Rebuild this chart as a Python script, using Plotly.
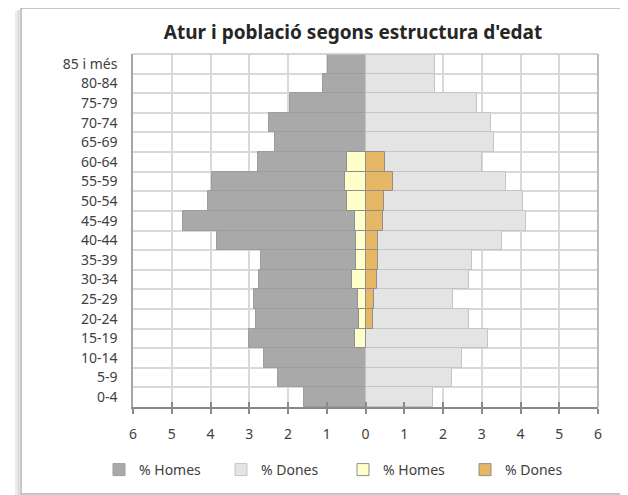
import plotly.graph_objects as go

# ---- data (youngest -> oldest) ----
ages = ["0-4", "5-9", "10-14", "15-19", "20-24", "25-29", "30-34", "35-39", "40-44",
        "45-49", "50-54", "55-59", "60-64", "65-69", "70-74", "75-79", "80-84", "85 i més"]
pop_men = [1.59, 2.25, 2.62, 3.00, 2.83, 2.87, 2.76, 2.70, 3.82,
           4.72, 4.06, 3.95, 2.78, 2.33, 2.48, 1.95, 1.10, 0.96]
pop_women = [1.75, 2.24, 2.48, 3.17, 2.68, 2.27, 2.68, 2.76, 3.53,
             4.14, 4.07, 3.63, 3.01, 3.32, 3.23, 2.87, 1.80, 1.80]
unemp_men = [None, None, None, 0.27, 0.17, 0.20, 0.34, 0.24, 0.24,
             0.27, 0.47, 0.53, 0.47, None, None, None, None, None]
unemp_women = [None, None, None, None, 0.19, 0.23, 0.29, 0.33, 0.32,
               0.45, 0.49, 0.72, 0.50, None, None, None, None, None]
x_ticks = [-6, -5, -4, -3, -2, -1, 0, 1, 2, 3, 4, 5, 6]
x_labels = ["6", "5", "4", "3", "2", "1", "0", "1", "2", "3", "4", "5", "6"]
title = "Atur i població segons estructura d'edat"

ypos = list(range(len(ages)))
neg = lambda v: [(-a if a is not None else None) for a in v]

# page has an 8px body margin: work in page coordinates and subtract it
OFF = 8
W, H = 628 - OFF, 495 - OFF
PL, PR, PT, PB = 133, 598, 54, 407          # plot area in page pixels
ML, MR, MT, MB = PL - OFF, W - (PR - OFF), PT - OFF, H - (PB - OFF)
pw, ph = W - ML - MR, H - MT - MB
px = lambda p: (p - OFF - ML) / pw
py = lambda p: (H - MB - (p - OFF)) / ph

FONT = "Noto Sans"
TXT = "#404040"

fig = go.Figure()
fig.add_trace(go.Bar(y=ypos, x=neg(pop_men), orientation="h", name="% Homes", width=1.0,
                     marker=dict(color="#a9a9a9", line=dict(color="#9d9d9d", width=1))))
fig.add_trace(go.Bar(y=ypos, x=pop_women, orientation="h", name="% Dones", width=1.0,
                     marker=dict(color="#e4e4e4", line=dict(color="#c4c4c4", width=1))))
fig.add_trace(go.Bar(y=ypos, x=neg(unemp_men), orientation="h", name="% Homes", width=1.0,
                     marker=dict(color="#ffffcc", line=dict(color="#8f8f8f", width=1))))
fig.add_trace(go.Bar(y=ypos, x=unemp_women, orientation="h", name="% Dones", width=1.0,
                     marker=dict(color="#e6b764", line=dict(color="#8f8f8f", width=1))))
# invisible trace to carry the upper half of the crossing tick marks
fig.add_trace(go.Scatter(x=[None], y=[None], xaxis="x2", showlegend=False, hoverinfo="skip"))

fig.update_layout(
    width=W, height=H,
    margin=dict(l=ML, r=MR, t=MT, b=MB, autoexpand=False),
    paper_bgcolor="white", plot_bgcolor="white",
    barmode="overlay", bargap=0,
    font=dict(family=FONT, size=14, color=TXT),
    title=dict(text="<b>" + title + "</b>", xref="container", x=(353 - OFF) / W,
               xanchor="center", yref="container", y=1 - (32 - OFF) / H, yanchor="middle",
               font=dict(family=FONT, size=19, color="#262626")),
    xaxis=dict(range=[-6, 6], tickvals=x_ticks, ticktext=x_labels,
               showgrid=True, gridcolor="#d9d9d9", gridwidth=1.5,
               zeroline=False, showline=True, linecolor="#8a8a8a", linewidth=1.5,
               mirror=False, ticks="outside", ticklen=5, tickcolor="#8a8a8a", tickwidth=1.5,
               ticklabelstandoff=8, tickfont=dict(size=14, color=TXT)),
    xaxis2=dict(range=[-6, 6], overlaying="x", anchor="y", side="bottom",
                tickvals=x_ticks, showticklabels=False, showgrid=False, zeroline=False,
                ticks="inside", ticklen=5, tickcolor="#8a8a8a", tickwidth=1.5),
    yaxis=dict(range=[-0.5, len(ages) - 0.5], tickvals=ypos, ticktext=ages,
               showgrid=False, zeroline=False, showline=True, linecolor="#a6a6a6",
               linewidth=1.5, ticks="", ticklabelstandoff=11,
               tickfont=dict(size=14, color=TXT),
               minor=dict(tick0=0.5, dtick=1, showgrid=True, gridcolor="#d9d9d9",
                          gridwidth=1.5)),
    showlegend=True,
    legend=dict(orientation="h", x=px(99), xanchor="left", y=py(470), yanchor="middle",
                entrywidth=77, entrywidthmode="pixels", traceorder="normal",
                itemwidth=30, tracegroupgap=0,
                font=dict(size=14, color=TXT), bgcolor="rgba(0,0,0,0)"),
    shapes=[
        # plot-area top/right border
        dict(type="line", xref="paper", yref="paper", x0=0, x1=1, y0=1, y1=1,
             line=dict(color="#c8c8c8", width=1.5)),
        dict(type="line", xref="paper", yref="paper", x0=1, x1=1, y0=0, y1=1,
             line=dict(color="#a6a6a6", width=1.5)),
        # outer chart frame with soft shadow on the left
        dict(type="line", xref="paper", yref="paper", x0=px(16), x1=px(16),
             y0=py(497), y1=py(11), line=dict(color="#ececec", width=2)),
        dict(type="line", xref="paper", yref="paper", x0=px(18.5), x1=px(18.5),
             y0=py(497), y1=py(10), line=dict(color="#d4d4d4", width=2)),
        dict(type="rect", xref="paper", yref="paper", x0=px(21), x1=px(640),
             y0=py(494), y1=py(8), line=dict(color="#b4b4b4", width=1.5)),
    ],
)

fig.write_html("out.html")
